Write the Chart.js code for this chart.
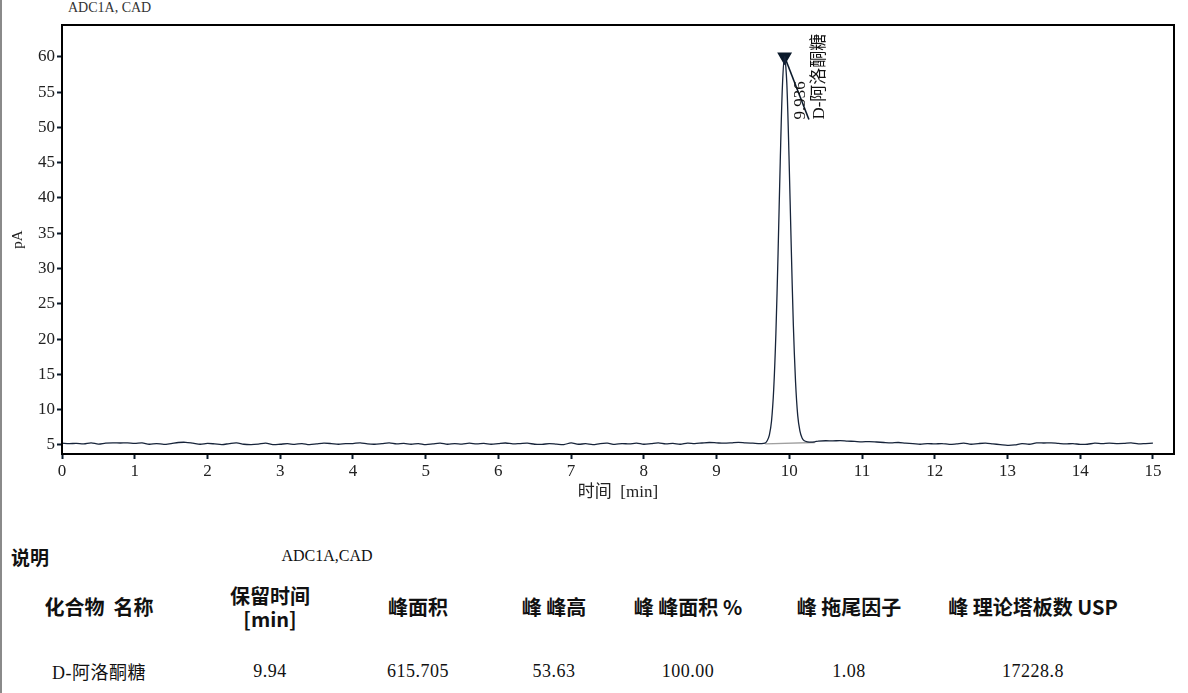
<!DOCTYPE html>
<html>
<head>
<meta charset="utf-8">
<script src="https://cdn.jsdelivr.net/npm/chart.js@4/dist/chart.umd.min.js"></script>
<style>
  body { margin: 0; background: #fff; }
  #page { position: relative; width: 1188px; height: 693px; overflow: hidden; background: #fff; }
  #edge { position: absolute; left: 0; top: 0; width: 2px; height: 693px; background: #8a8a8a; }
  #plot { position: absolute; left: 0; top: 0; width: 1188px; height: 505px; }
  #sig { position: absolute; left: 68px; top: 0; font: 14px "Liberation Serif", serif; color: #333; }
  .t { position: absolute; white-space: nowrap; transform: translate(-50%, -50%); color: #111; }
  .hd { font: bold 20px "Noto Sans CJK SC", sans-serif; text-align: center; line-height: 23px; }
  .cell { font: 18px "Liberation Serif", "Noto Sans CJK SC", serif; letter-spacing: 0.5px; }
  .plain { font: 16px "Liberation Serif", serif; }
</style>
</head>
<body>
<div id="page">
  <div id="edge"></div>
  <div id="sig">ADC1A, CAD</div>
  <div id="plot"><canvas id="chrom"></canvas></div>
  <div id="table"></div>
</div>
<script>
// chromatogram trace (min, pA)
const timeMin = [
  0.0, 0.1, 0.2, 0.3, 0.4, 0.5, 0.6, 0.7, 0.8, 0.9,
  1.0, 1.1, 1.2, 1.3, 1.4, 1.5, 1.6, 1.7, 1.8, 1.9,
  2.0, 2.1, 2.2, 2.3, 2.4, 2.5, 2.6, 2.7, 2.8, 2.9,
  3.0, 3.1, 3.2, 3.3, 3.4, 3.5, 3.6, 3.7, 3.8, 3.9,
  4.0, 4.1, 4.2, 4.3, 4.4, 4.5, 4.6, 4.7, 4.8, 4.9,
  5.0, 5.1, 5.2, 5.3, 5.4, 5.5, 5.6, 5.7, 5.8, 5.9,
  6.0, 6.1, 6.2, 6.3, 6.4, 6.5, 6.6, 6.7, 6.8, 6.9,
  7.0, 7.1, 7.2, 7.3, 7.4, 7.5, 7.6, 7.7, 7.8, 7.9,
  8.0, 8.1, 8.2, 8.3, 8.4, 8.5, 8.6, 8.7, 8.8, 8.9,
  9.0, 9.1, 9.2, 9.3, 9.4, 9.5, 9.6,
  9.666, 9.696, 9.726, 9.756, 9.786, 9.816, 9.846, 9.876, 9.906, 9.936,
  9.966, 9.996, 10.026, 10.056, 10.086, 10.116, 10.146, 10.176, 10.206, 10.25,
  10.3, 10.35, 10.4, 10.5, 10.6, 10.7, 10.8, 10.9,
  11.0, 11.1, 11.2, 11.3, 11.4, 11.5, 11.6, 11.7, 11.8, 11.9,
  12.0, 12.1, 12.2, 12.3, 12.4, 12.5, 12.6, 12.7, 12.8, 12.9,
  13.0, 13.1, 13.2, 13.3, 13.4, 13.5, 13.6, 13.7, 13.8, 13.9,
  14.0, 14.1, 14.2, 14.3, 14.4, 14.5, 14.6, 14.7, 14.8, 14.9,
  15.0
];
const signalPA = [
  5.25, 5.20, 5.22, 5.15, 5.30, 5.12, 5.25, 5.30, 5.28, 5.30,
  5.22, 5.30, 5.10, 5.20, 5.08, 5.20, 5.35, 5.38, 5.25, 5.10,
  5.22, 5.15, 5.05, 5.20, 5.30, 5.10, 5.05, 5.12, 5.25, 5.05,
  5.10, 5.18, 5.08, 5.20, 5.05, 5.15, 5.25, 5.20, 5.10, 5.18,
  5.20, 5.30, 5.15, 5.10, 5.20, 5.30, 5.15, 5.22, 5.10, 5.20,
  5.05, 5.15, 5.25, 5.10, 5.20, 5.12, 5.25, 5.15, 5.22, 5.10,
  5.20, 5.28, 5.15, 5.20, 5.25, 5.10, 5.08, 5.20, 5.12, 5.05,
  5.30, 5.10, 5.18, 5.05, 5.20, 5.25, 5.08, 5.20, 5.15, 5.25,
  5.10, 5.20, 5.30, 5.15, 5.22, 5.10, 5.25, 5.20, 5.28, 5.35,
  5.30, 5.25, 5.30, 5.38, 5.30, 5.25, 5.20,
  5.25, 5.60, 6.40, 8.40, 12.9, 20.8, 32.2, 45.2, 55.9, 60.0,
  56.3, 46.0, 33.5, 22.0, 14.0, 9.20, 7.00, 6.00, 5.60, 5.45,
  5.40, 5.45, 5.55, 5.60, 5.58, 5.62, 5.55, 5.50,
  5.45, 5.48, 5.42, 5.35, 5.30, 5.35, 5.25, 5.20, 5.10, 5.20,
  5.15, 5.20, 5.08, 5.15, 5.25, 5.10, 5.20, 5.25, 5.15, 5.05,
  4.95, 5.00, 5.20, 5.10, 5.30, 5.28, 5.30, 5.22, 5.15, 5.20,
  5.08, 5.10, 5.25, 5.20, 5.25, 5.20, 5.22, 5.30, 5.15, 5.20,
  5.25
];

// integration baseline under the peak
const baseTime = [9.67, 10.35];
const baseValue = [5.15, 5.35];

// peak marker: apex and end of the label leader
const peakTime = [9.936, 10.27];
const peakValue = [60.0, 51.1];
const peakRT = "9.936";
const peakName = "D-阿洛酮糖";

const xTicks = [0, 1, 2, 3, 4, 5, 6, 7, 8, 9, 10, 11, 12, 13, 14, 15];
const yTicks = [5, 10, 15, 20, 25, 30, 35, 40, 45, 50, 55, 60];

// results table
const legendLabel = "说明";
const legendSignal = "ADC1A,CAD";
const tableHeaders = ["化合物&nbsp;&nbsp;名称", "保留时间<br>[min]", "峰面积", "峰 峰高", "峰 峰面积 %", "峰 拖尾因子", "峰 理论塔板数 USP"];
const tableRow = ["D-阿洛酮糖", "9.94", "615.705", "53.63", "100.00", "1.08", "17228.8"];

const colCenters = [99, 270, 418, 554, 688, 849, 1033];

function toPoints(xs, ys) {
    const pts = [];
    for (let i = 0; i < xs.length; i++) {
        pts.push({ x: xs[i], y: ys[i] });
    }
    return pts
}

const framePlugin = {
    id: "frame",
    afterDatasetsDraw(chart) {
        const ctx = chart.ctx;
        const a = chart.chartArea;
        ctx.save();
        ctx.strokeStyle = "#000";
        ctx.lineWidth = 2;
        ctx.strokeRect(a.left, a.top, a.right - a.left, a.bottom - a.top);

        // rotated peak labels, anchored on the leader end
        const px = chart.scales.x.getPixelForValue(peakTime[1]);
        const py = chart.scales.y.getPixelForValue(peakValue[1]);
        ctx.fillStyle = "#111";
        ctx.textAlign = "left";
        ctx.textBaseline = "middle";
        ctx.font = '17px "Liberation Serif", serif';
        ctx.translate(px - 8, py);
        ctx.rotate(-Math.PI / 2);
        ctx.fillText(peakRT, 0, 0);
        ctx.restore();

        ctx.save();
        ctx.fillStyle = "#111";
        ctx.textAlign = "left";
        ctx.textBaseline = "middle";
        ctx.font = '17px "Liberation Serif", "Noto Sans CJK SC", serif';
        ctx.translate(px + 11, py);
        ctx.rotate(-Math.PI / 2);
        ctx.fillText(peakName, 0, 0);
        ctx.restore();
    }
};

const tickFont = { family: '"Liberation Serif", serif', size: 17 };

new Chart(document.getElementById("chrom").getContext("2d"), {
    type: "line",
    data: {
        datasets: [{
            data: toPoints(timeMin, signalPA),
            borderColor: "#17243a",
            borderWidth: 1.3,
            pointRadius: 0,
            tension: 0.3,
            fill: false,
        },
        {
            data: toPoints(baseTime, baseValue),
            borderColor: "#a0a0a0",
            borderWidth: 1.3,
            pointRadius: 0,
            fill: false,
        },
        {
            data: toPoints(peakTime, peakValue),
            borderColor: "#0b1a2b",
            borderWidth: 1.6,
            pointStyle: "triangle",
            pointRadius: [7, 0],
            pointRotation: 180,
            pointBackgroundColor: "#0b1a2b",
            pointBorderColor: "#0b1a2b",
            fill: false,
        },
        ],
    },
    options: {
        responsive: true,
        maintainAspectRatio: false,
        animation: false,
        events: [],
        layout: { padding: { top: 25, right: 14, left: 0, bottom: 0 } },
        plugins: {
            legend: { display: false },
            tooltip: { enabled: false },
        },
        scales: {
            x: {
                type: "linear",
                min: 0,
                max: 15.29,
                afterBuildTicks: s => { s.ticks = xTicks.map(v => ({ value: v })); },
                afterFit: s => { s.height = 51; },
                border: { display: false },
                grid: { drawOnChartArea: false, tickLength: 5, tickWidth: 2, tickColor: "#0b1a2b" },
                ticks: { color: "#222", font: tickFont, padding: 2, maxRotation: 0, autoSkip: false },
                title: {
                    display: true,
                    text: "时间  [min]",
                    color: "#222",
                    font: { family: '"Liberation Serif", "Noto Sans CJK SC", serif', size: 17 },
                    padding: { top: 0, bottom: 2 },
                },
            },
            y: {
                type: "linear",
                min: 3.72,
                max: 64.5,
                afterBuildTicks: s => { s.ticks = yTicks.map(v => ({ value: v })); },
                afterFit: s => { s.width = 62; },
                border: { display: false },
                grid: { drawOnChartArea: false, tickLength: 5, tickWidth: 2, tickColor: "#0b1a2b" },
                ticks: { color: "#222", font: tickFont, padding: 2, autoSkip: false },
                title: {
                    display: true,
                    text: "pA",
                    color: "#222",
                    font: { family: '"Liberation Serif", serif', size: 15 },
                    padding: { top: 9, bottom: 0 },
                },
            },
        },
    },
    plugins: [framePlugin],
});

// table below the plot
const table = document.getElementById("table");
function addText(cls, html, x, y) {
    const d = document.createElement("div");
    d.className = "t " + cls;
    d.innerHTML = html;
    d.style.left = x + "px";
    d.style.top = y + "px";
    table.appendChild(d);
}
const lead = document.createElement("div");
lead.className = "t hd";
lead.style.transform = "translate(0, -50%)";
lead.style.left = "11px";
lead.style.top = "556px";
lead.style.fontSize = "19px";
lead.textContent = legendLabel;
table.appendChild(lead);
addText("plain", legendSignal, 327, 556);
for (let i = 0; i < tableHeaders.length; i++) {
    addText("hd", tableHeaders[i], colCenters[i], i == 1 ? 607 : 606);
    addText("cell", tableRow[i], colCenters[i], 671);
}
</script>
</body>
</html>
